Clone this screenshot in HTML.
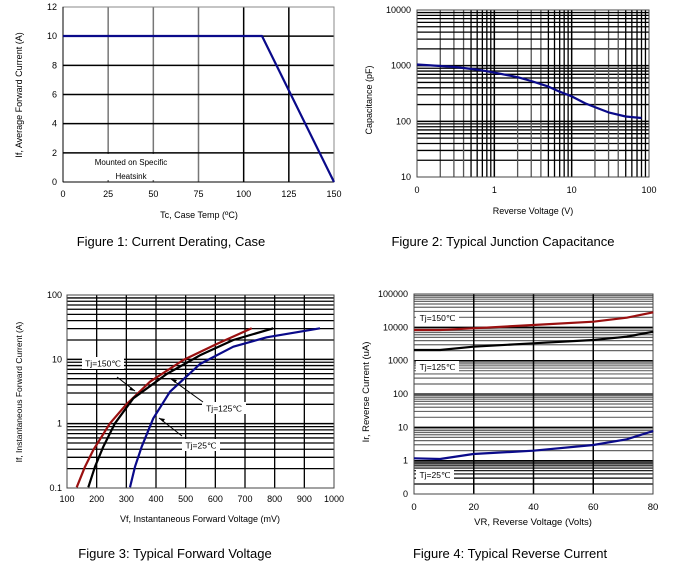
<!DOCTYPE html><html><head><style>body{margin:0;background:#fff}svg{display:block}</style></head><body>
<svg id="s" width="677" height="573" xmlns="http://www.w3.org/2000/svg" font-family="Liberation Sans, sans-serif"></svg>
<script>
let o='';
const L=(x1,y1,x2,y2,c,w)=>o+=`<line x1="${x1}" y1="${y1}" x2="${x2}" y2="${y2}" stroke="${c}" stroke-width="${w||1}"/>`;
const T=(x,y,t,s,a,ex)=>o+=`<text x="${x}" y="${y}" font-size="${s}" text-anchor="${a||'middle'}" ${ex||''}>${t}</text>`;
const P=(pts,c)=>o+=`<polyline points="${pts.map(p=>p.join(',')).join(' ')}" fill="none" stroke="${c}" stroke-width="2.2" stroke-linejoin="round"/>`;
const lg=Math.log10;
// Chart 1
{let x0=63,x1=334,y0=182,y1=7;
for(let i=1;i<6;i++){let x=x0+i*(x1-x0)/6;L(x,y1,x,y0,i<4?'#777':'#000',1.5);}
for(let i=1;i<6;i++){let y=y0-i*(y0-y1)/6;L(x0,y,x1,y,'#000',1.5);}
o+=`<rect x="${x0}" y="${y1}" width="${x1-x0}" height="${y0-y1}" fill="none" stroke="#888"/>`;
L(x0,y1,x0,y0,'#000');L(x0,y0,x1,y0,'#000');
o+=`<rect x="85" y="154" width="90" height="26" fill="#fff"/>`;
T(131,165,'Mounted on Specific',8);T(131,179,'Heatsink',8);
for(let i=0;i<=6;i++){T(x0-6,y0-i*(y0-y1)/6+3,2*i,9,'end');T(x0+i*(x1-x0)/6,197,25*i,9);}
P([[63,36],[262,36],[334,182]],'#0a0a8a');
T(199,218,'Tc, Case Temp (ºC)',9);
T(22,95,'If, Average Forward Current (A)',9,'middle','transform="rotate(-90 22 95)"');
T(171,246,'Figure 1: Current Derating, Case',13);}
// Chart 2
{let x0=417,x1=649,y0=177,y1=10,dx=(x1-x0)/3,dy=(y0-y1)/3;
const X=v=>x0+(lg(v)+1)*dx,Y=v=>y0-(lg(v)-1)*dy;
for(let d=0;d<3;d++)for(let k=2;k<=9;k++){L(X(Math.pow(10,d-1)*k),y1,X(Math.pow(10,d-1)*k),y0,k<5?'#555':'#000',1.3);L(x0,Y(Math.pow(10,d+1)*k),x1,Y(Math.pow(10,d+1)*k),'#000',1.3);}
for(let d=1;d<3;d++){L(X(Math.pow(10,d-1)),y1,X(Math.pow(10,d-1)),y0,'#000',1.5);L(x0,Y(Math.pow(10,d+1)),x1,Y(Math.pow(10,d+1)),'#000',1.5);}
o+=`<rect x="${x0}" y="${y1}" width="${x1-x0}" height="${y0-y1}" fill="none" stroke="#444"/>`;
['10','100','1000','10000'].forEach((t,i)=>T(x0-6,y0-i*dy+3,t,9,'end'));
['0','1','10','100'].forEach((t,i)=>T(x0+i*dx,193,t,9));
P([[0.1,1050],[0.3,950],[0.6,850],[1,750],[2,620],[3,530],[5,420],[7,340],[10,280],[15,210],[20,180],[30,145],[50,122],[80,115]].map(p=>[X(p[0]).toFixed(1),Y(p[1]).toFixed(1)]),'#0a0a8a');
T(533,214,'Reverse Voltage (V)',9);
T(372,100,'Capacitance (pF)',9,'middle','transform="rotate(-90 372 100)"');
T(503,246,'Figure 2: Typical Junction Capacitance',13);}
// Chart 3
{let x0=67,x1=334,y0=488,y1=295,dy=(y0-y1)/3;
const Y=v=>y0-(lg(v)+1)*dy;
for(let d=0;d<3;d++)for(let k=2;k<=9;k++)L(x0,Y(Math.pow(10,d-1)*k),x1,Y(Math.pow(10,d-1)*k),'#000',1.3);
for(let i=1;i<9;i++)L(x0+i*(x1-x0)/9,y1,x0+i*(x1-x0)/9,y0,'#000',1.3);
L(x0,Y(1),x1,Y(1),'#000',1.5);L(x0,Y(10),x1,Y(10),'#000',1.5);
o+=`<rect x="${x0}" y="${y1}" width="${x1-x0}" height="${y0-y1}" fill="none" stroke="#444"/>`;
['0.1','1','10','100'].forEach((t,i)=>T(x0-5,y0-i*dy+3,t,9,'end'));
for(let i=0;i<=9;i++)T(x0+i*(x1-x0)/9,502,100+100*i,9);
const Z=a=>a.map(p=>[(p[0]/3).toFixed(1),(p[1]/3+280).toFixed(1)]);
P(Z([[230,622],[255,560],[280,510],[330,430],[380,372],[450,305],[550,240],[650,192],[755,145]]),'#9a1010');
P(Z([[265,622],[285,560],[310,500],[345,430],[400,355],[500,282],[600,226],[700,180],[820,145]]),'#000');
P(Z([[390,622],[405,560],[425,500],[460,415],[510,335],[600,252],[700,200],[800,172],[960,145]]),'#0a0a8a');
const lab=(x,y,w,t)=>{o+=`<rect x="${x}" y="${y}" width="${w}" height="12" fill="#fff"/>`;T(x+w/2,y+9.5,t,8.5);};
lab(82,357,42,'Tj=150℃');lab(202,402,44,'Tj=125℃');lab(182,439,38,'Tj=25℃');
L(117,377,135,391,'#000');L(203,402,171,379,'#000');L(182,436,159,418,'#000');
o+=`<path d="M135,391 l-6,-1 l2,-3z M171,379 l6,1 l-2,3z M159,418 l6,1 l-2,3z"/>`;
T(200,522,'Vf, Instantaneous Forward  Voltage (mV)',9);
T(22,392,'If, Instantaneous Forward Current (A)',8.5,'middle','transform="rotate(-90 22 392)"');
T(175,558,'Figure 3: Typical Forward Voltage',13);}
// Chart 4
{let x0=414,x1=653,y0=494,y1=294,dy=(y0-y1)/6;
for(let d=0;d<6;d++){let yb=y0-d*dy;for(let k=2;k<=9;k++){let y=yb-lg(k)*dy;L(x0,y,x1,y,d==0?'#000':'#666',1.2);}}
for(let d=1;d<6;d++)L(x0,y0-d*dy,x1,y0-d*dy,'#000',1.3);
for(let i=1;i<4;i++)L(x0+i*(x1-x0)/4,y1,x0+i*(x1-x0)/4,y0,'#000',1.5);
o+=`<rect x="${x0}" y="${y1}" width="${x1-x0}" height="${y0-y1}" fill="none" stroke="#444"/>`;
['0','1','10','100','1000','10000','100000'].forEach((t,i)=>T(x0-6,y0-i*dy+3,t,9,'end'));
for(let i=0;i<=4;i++)T(x0+i*(x1-x0)/4,510,20*i,9.5);
const Z=a=>a.map(p=>[(p[0]/3+340).toFixed(1),(p[1]/3+280).toFixed(1)]);
P(Z([[222,150],[300,150],[400,145],[580,135],[760,125],[860,113],[940,97]]),'#9a1010');
P(Z([[222,210],[300,210],[400,200],[580,190],[760,180],[860,170],[940,155]]),'#000');
P(Z([[222,535],[300,537],[400,522],[580,512],[760,495],[860,478],[940,453]]),'#0a0a8a');
const lab=(x,y,w,t)=>{o+=`<rect x="${x}" y="${y}" width="${w}" height="11" fill="#fff"/>`;T(x+w/2,y+9,t,8.5);};
lab(416,312,43,'Tj=150℃');lab(416,361,43,'Tj=125℃');lab(416,469,38,'Tj=25℃');
T(533,525,'VR, Reverse Voltage (Volts)',9.5);
T(369,392,'Ir, Reverse Current (uA)',9.5,'middle','transform="rotate(-90 369 392)"');
T(510,558,'Figure 4: Typical Reverse Current',13);}
document.getElementById('s').innerHTML=o;
</script></body></html>
